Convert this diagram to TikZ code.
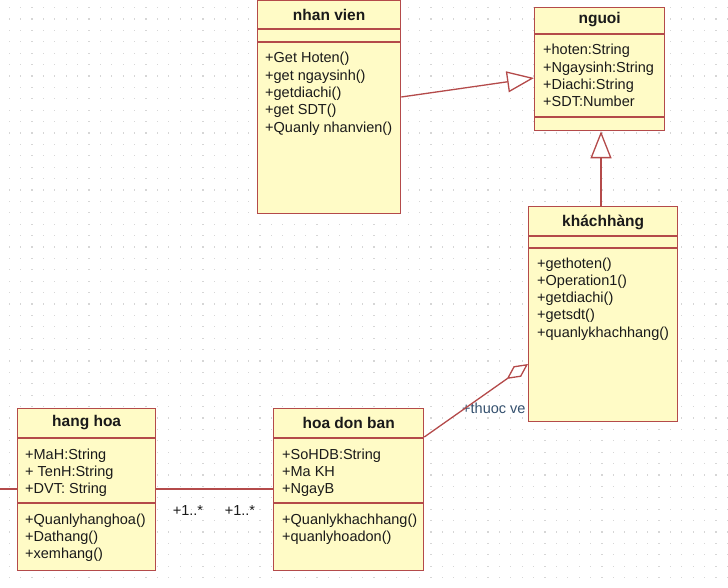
\documentclass[tikz,border=0pt]{standalone}
\usepackage{fontspec}
\setmainfont{Liberation Sans}
\usetikzlibrary{arrows.meta,calc}
\definecolor{boxfill}{HTML}{FFFBC6}
\definecolor{boxline}{HTML}{B44A4A}
\definecolor{txtc}{HTML}{1A1A1A}
\definecolor{lblc}{HTML}{34506E}
\definecolor{dotc}{HTML}{D6D6D6}
\begin{document}
\begin{tikzpicture}[x=1pt,y=-1pt,
  cls/.style={draw=boxline, fill=boxfill, line width=1.3pt, rectangle, anchor=north west, inner sep=0pt},
  divider/.style={draw=boxline, line width=1.3pt},
  title/.style={font=\fontsize{15.5}{17}\selectfont\bfseries, text=txtc, inner sep=0pt},
  member/.style={font=\fontsize{14.5}{17}\selectfont, text=txtc, inner sep=0pt, anchor=base west},
  conn/.style={draw=boxline, line width=1.3pt},
  mult/.style={font=\fontsize{14.5}{17}\selectfont, text=txtc, inner sep=0pt},
  rolelbl/.style={font=\fontsize{14.5}{17}\selectfont, text=lblc, inner sep=0pt, anchor=west},
  gentip/.style={-{Triangle[open, fill=white, length=27pt, width=21pt]}},
  aggtip/.style={-{Diamond[open, fill=white, length=26pt, width=13pt]}}
]
\fill[white] (0,0) rectangle (728,588);
\useasboundingbox (0,0) rectangle (728,588);
\foreach \gx in {0,...,63}
  \foreach \gy in {0,...,51}
    \fill[dotc] ({8.5+11.4*\gx},{7+11.4*\gy}) rectangle ++(1.2,1.2);

% nhan vien
\node[cls, minimum width=143pt, minimum height=213pt] (nv) at (257,0) {};
\draw[divider] ($(nv.north west)+(0,29)$) -- ($(nv.north east)+(0,29)$);
\draw[divider] ($(nv.north west)+(0,42)$) -- ($(nv.north east)+(0,42)$);
\node[title] (nvt) at ($(nv.north)+(0,15)$) {nhan vien};
\foreach \t [count=\i] in {+Get Hoten(), +get ngaysinh(), +getdiachi(), +get SDT(), +Quanly nhanvien()}
  \node[member] (nvm\i) at ($(nv.north west)+(8,{63+17.3*(\i-1)})$) {\t};

% nguoi
\node[cls, minimum width=130pt, minimum height=123pt] (ng) at (534,7) {};
\draw[divider] ($(ng.north west)+(0,27)$) -- ($(ng.north east)+(0,27)$);
\draw[divider] ($(ng.north west)+(0,110)$) -- ($(ng.north east)+(0,110)$);
\node[title] (ngt) at ($(ng.north)+(0,13)$) {nguoi};
\foreach \t [count=\i] in {+hoten:String, +Ngaysinh:String, +Diachi:String, +SDT:Number}
  \node[member] (ngm\i) at ($(ng.north west)+(9,{48+17.3*(\i-1)})$) {\t};

% role label (partly covered by khachhang)
\node[rolelbl] (thuoc) at (462,408) {+thuoc ve};

% khachhang
\node[cls, minimum width=149pt, minimum height=215pt] (kh) at (528,206) {};
\draw[divider] ($(kh.north west)+(0,30)$) -- ($(kh.north east)+(0,30)$);
\draw[divider] ($(kh.north west)+(0,42)$) -- ($(kh.north east)+(0,42)$);
\node[title] (kht) at ($(kh.north)+(0,16)$) {kháchhàng};
\foreach \t [count=\i] in {+gethoten(), +Operation1(), +getdiachi(), +getsdt(), +quanlykhachhang()}
  \node[member] (khm\i) at ($(kh.north west)+(9,{62+17.3*(\i-1)})$) {\t};

% hang hoa
\node[cls, minimum width=138pt, minimum height=162pt] (hh) at (17,408) {};
\draw[divider] ($(hh.north west)+(0,30)$) -- ($(hh.north east)+(0,30)$);
\draw[divider] ($(hh.north west)+(0,95)$) -- ($(hh.north east)+(0,95)$);
\node[title] (hht) at ($(hh.north)+(0,15)$) {hang hoa};
\foreach \t [count=\i] in {+MaH:String, + TenH:String, +DVT: String}
  \node[member] (hha\i) at ($(hh.north west)+(8,{51+17.3*(\i-1)})$) {\t};
\foreach \t [count=\i] in {+Quanlyhanghoa(), +Dathang(), +xemhang()}
  \node[member] (hhm\i) at ($(hh.north west)+(8,{116+17.3*(\i-1)})$) {\t};

% hoa don ban
\node[cls, minimum width=150pt, minimum height=162pt] (hd) at (273,408) {};
\draw[divider] ($(hd.north west)+(0,30)$) -- ($(hd.north east)+(0,30)$);
\draw[divider] ($(hd.north west)+(0,95)$) -- ($(hd.north east)+(0,95)$);
\node[title] (hdt) at ($(hd.north)+(0,15)$) {hoa don ban};
\foreach \t [count=\i] in {+SoHDB:String, +Ma KH, +NgayB}
  \node[member] (hda\i) at ($(hd.north west)+(9,{51+17.3*(\i-1)})$) {\t};
\foreach \t [count=\i] in {+Quanlykhachhang(), +quanlyhoadon()}
  \node[member] (hdm\i) at ($(hd.north west)+(9,{116+17.3*(\i-1)})$) {\t};

% connectors
\coordinate (nvout) at ($(nv.north east)+(0,97)$);
\coordinate (ngin) at ($(ng.north west)+(0,71)$);
\draw[conn, gentip] (nvout) -- (ngin);

\coordinate (khtop) at ($(kh.north west)+(73,0)$);
\draw[conn, gentip] (khtop) -- (khtop |- ng.south);

\coordinate (hdout) at ($(hd.north east)+(0,29)$);
\coordinate (khin) at ($(kh.north west)+(0,158)$);
\draw[conn, aggtip] (hdout) -- (khin);

\coordinate (hhout) at ($(hh.north east)+(0,81)$);
\coordinate (hdin) at ($(hd.north west)+(0,81)$);
\draw[conn] (hhout) -- (hdin);
\coordinate (stub) at (0,489);
\draw[conn] (stub) -- ($(hh.north west)+(0,81)$);

\node[mult] (m1) at (188,511) {+1..*};
\node[mult] (m2) at (240,511) {+1..*};
\end{tikzpicture}
\end{document}
